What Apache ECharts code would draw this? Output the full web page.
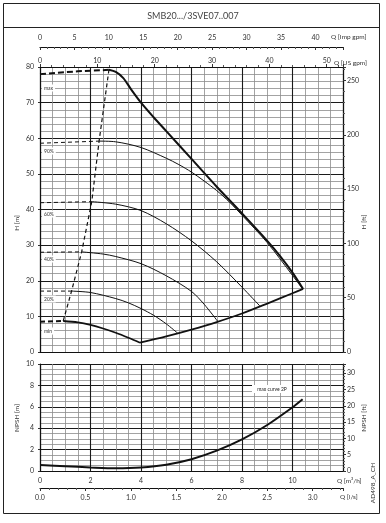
<!DOCTYPE html>
<html><head><meta charset="utf-8">
<script src="https://cdn.jsdelivr.net/npm/echarts/dist/echarts.min.js"></script>
<style>html,body{margin:0;padding:0;background:#fff}#c{width:386px;height:523px}</style>
</head><body><div id="c"></div>
<script>
// ---- data (Q in m3/h, H in m) ----
const maxDashQ = [0, 1.5, 2.73];
const maxDashH = [78.0, 78.8, 79.2];
const maxQ = [2.73, 3.0, 3.3, 3.6, 4.0, 4.5, 5.0, 6.0, 7.0, 8.0, 9.0, 9.5, 10.0, 10.42];
const maxH = [79.2, 78.6, 76.9, 73.8, 70.0, 65.9, 62.0, 54.2, 46.4, 38.9, 31.2, 27.0, 22.3, 17.7];
const s90DashQ = [0, 2.34];
const s90DashH = [58.6, 59.2];
const s90Q = [2.34, 3.0, 4.0, 5.0, 5.5, 6.0, 6.5, 7.0, 7.5, 8.0, 9.0, 10.0, 10.38];
const s90H = [59.2, 59.0, 57.4, 54.4, 52.6, 50.5, 48.0, 45.3, 42.1, 38.4, 30.7, 21.5, 17.9];
const s60DashQ = [0, 2.05];
const s60DashH = [41.9, 42.2];
const s60Q = [2.05, 3.0, 4.0, 5.0, 6.0, 7.0, 8.0, 8.71];
const s60H = [42.2, 41.5, 39.7, 36.0, 31.2, 25.3, 18.2, 12.9];
const s40DashQ = [0, 1.65];
const s40DashH = [28.0, 28.1];
const s40Q = [1.65, 2.5, 3.0, 4.0, 5.0, 6.0, 6.5, 7.05];
const s40H = [28.1, 27.5, 26.8, 24.8, 21.4, 17.0, 13.4, 8.5];
const s20DashQ = [0, 1.25];
const s20DashH = [17.1, 17.1];
const s20Q = [1.25, 2.0, 3.0, 3.5, 4.0, 4.5, 5.0, 5.45];
const s20H = [17.1, 16.7, 15.0, 13.8, 12.2, 10.3, 7.9, 5.3];
const minDashQ = [0, 0.92];
const minDashH = [8.5, 8.7];
const minQ = [0.92, 1.5, 2.0, 2.5, 3.0, 3.5, 3.96];
const minH = [8.7, 8.3, 7.6, 6.6, 5.4, 4.0, 2.6];
const sysQ = [3.96, 5.0, 6.0, 7.0, 8.0, 9.0, 10.0, 10.42];
const sysH = [2.6, 4.4, 6.3, 8.4, 10.8, 13.6, 16.5, 17.7];
const kneeQ = [0.92, 1.25, 1.65, 2.05, 2.34, 2.73];
const kneeH = [8.7, 17.1, 28.1, 42.2, 59.2, 79.2];
const npshQ = [0, 1, 2, 3, 4, 5, 6, 7, 8, 9, 10, 10.4];
const npshV = [0.56, 0.45, 0.33, 0.25, 0.32, 0.58, 1.1, 1.9, 2.95, 4.3, 5.95, 6.7];
const curveLabels = ['max', '90%', '60%', '40%', '20%', 'min'];
const titleText = 'SMB20.../3SVE07..007';

// ---- unit conversions for secondary axes ----
const Q_MAX = 12;
const IMP = 3.6662, USG = 4.4029, LS = 1 / 3.6, FT = 3.28084;

function zip(a, b) { return a.map((v, i) => [v, b[i]]); }
const FONT = 'Lato';
const txt = '#333';

function line(q, h, w, dash, xi, yi) {
  return {
    type: 'line', xAxisIndex: xi || 0, yAxisIndex: yi || 0, data: zip(q, h),
    showSymbol: false, symbol: 'none', smooth: dash ? false : 0.3, silent: true,
    lineStyle: { color: '#111', width: w, type: dash || 'solid' }, z: 5
  };
}

const major = { show: true, lineStyle: { color: '#1a1a1a', width: 1.1 } };
const minor = { show: true, lineStyle: { color: '#8c8c8c', width: 0.8 } };
const axLine = { show: true, onZero: false, lineStyle: { color: '#111', width: 1.2 } };
const lab = { color: txt, fontSize: 7, fontFamily: FONT };

const chart = echarts.init(document.getElementById('c'), null, { renderer: 'canvas' });
const opt = {
  animation: false,
  backgroundColor: '#fff',
  grid: [
    { left: 40, top: 67, width: 303, height: 285 },
    { left: 40, top: 364, width: 303, height: 107 },
    { left: 40, top: 47, width: 303, height: 10 },
    { left: 40, top: 478, width: 303, height: 10 }
  ],
  xAxis: [
    { gridIndex: 0, type: 'value', position: 'bottom', min: 0, max: Q_MAX, interval: 2,
      axisLine: axLine, axisTick: { show: false }, axisLabel: { show: false },
      splitLine: major, minorTick: { show: false, splitNumber: 4 }, minorSplitLine: minor },
    { gridIndex: 0, type: 'value', position: 'top', min: 0, max: Q_MAX * USG, interval: 10,
      axisLine: axLine, axisTick: { show: true, length: 3, lineStyle: { color: '#333' } },
      minorTick: { show: true, splitNumber: 5, length: 2, lineStyle: { color: '#555' } },
      axisLabel: Object.assign({ margin: 3, showMaxLabel: false }, lab), splitLine: { show: false } },
    { gridIndex: 2, type: 'value', position: 'top', min: 0, max: Q_MAX * IMP, interval: 5,
      axisLine: axLine, axisTick: { show: true, inside: true, length: 3, lineStyle: { color: '#333' } },
      minorTick: { show: true, splitNumber: 5, length: 2, lineStyle: { color: '#555' } },
      axisLabel: Object.assign({ margin: 6, showMaxLabel: false }, lab), splitLine: { show: false } },
    { gridIndex: 1, type: 'value', position: 'bottom', min: 0, max: Q_MAX, interval: 2,
      axisLine: axLine, axisTick: { show: false },
      axisLabel: Object.assign({ margin: 6, showMaxLabel: false }, lab),
      splitLine: major, minorTick: { show: false, splitNumber: 4 }, minorSplitLine: minor },
    { gridIndex: 3, type: 'value', position: 'bottom', min: 0, max: Q_MAX * LS, interval: 0.5,
      axisLine: axLine, axisTick: { show: true, length: 3, lineStyle: { color: '#333' } },
      minorTick: { show: true, splitNumber: 5, length: 2, lineStyle: { color: '#555' } },
      axisLabel: Object.assign({ margin: 6, showMaxLabel: false, formatter: v => v.toFixed(1) }, lab),
      splitLine: { show: false } }
  ],
  yAxis: [
    { gridIndex: 0, type: 'value', position: 'left', min: 0, max: 80, interval: 10,
      axisLine: axLine, axisTick: { show: true, length: 2, lineStyle: { color: '#333' } },
      axisLabel: Object.assign({ margin: 6 }, lab),
      splitLine: major, minorTick: { show: false, splitNumber: 5 }, minorSplitLine: minor },
    { gridIndex: 0, type: 'value', position: 'right', min: 0, max: 80 * FT, interval: 50,
      axisLine: axLine, axisTick: { show: true, length: 3, lineStyle: { color: '#333' } },
      minorTick: { show: true, splitNumber: 5, length: 2, lineStyle: { color: '#555' } },
      axisLabel: Object.assign({ margin: 4, showMaxLabel: false }, lab), splitLine: { show: false } },
    { gridIndex: 1, type: 'value', position: 'left', min: 0, max: 10, interval: 2,
      axisLine: axLine, axisTick: { show: true, length: 2, lineStyle: { color: '#333' } },
      axisLabel: Object.assign({ margin: 6 }, lab),
      splitLine: major, minorTick: { show: false, splitNumber: 4 }, minorSplitLine: minor },
    { gridIndex: 1, type: 'value', position: 'right', min: 0, max: 10 * FT, interval: 5,
      axisLine: axLine, axisTick: { show: true, length: 3, lineStyle: { color: '#333' } },
      minorTick: { show: true, splitNumber: 5, length: 2, lineStyle: { color: '#555' } },
      axisLabel: Object.assign({ margin: 4, showMaxLabel: false }, lab), splitLine: { show: false } },
    { gridIndex: 2, type: 'value', show: false, min: 0, max: 1 },
    { gridIndex: 3, type: 'value', show: false, min: 0, max: 1 }
  ],
  series: [
    line(maxDashQ, maxDashH, 2, [6, 3]),
    line(maxQ, maxH, 2),
    line(s90DashQ, s90DashH, 1, [4, 3]),
    line(s90Q, s90H, 1),
    line(s60DashQ, s60DashH, 1, [4, 3]),
    line(s60Q, s60H, 1),
    line(s40DashQ, s40DashH, 1, [4, 3]),
    line(s40Q, s40H, 1),
    line(s20DashQ, s20DashH, 1, [4, 3]),
    line(s20Q, s20H, 1),
    line(minDashQ, minDashH, 2, [5, 3]),
    line(minQ, minH, 1.8),
    line(sysQ, sysH, 1.8),
    line(kneeQ, kneeH, 1.2, [4, 3]),
    line(npshQ, npshV, 2, null, 3, 2)
  ],
  graphic: []
};

const G = opt.graphic;
G.push({ type: 'rect', shape: { x: 3.5, y: 3.5, width: 376, height: 510 }, style: { fill: 'none', stroke: '#222', lineWidth: 1 }, z: 1 });
G.push({ type: 'line', shape: { x1: 3.5, y1: 27.5, x2: 379.5, y2: 27.5 }, style: { stroke: '#222', lineWidth: 1 }, z: 1 });
G.push({ type: 'text', x: 193, y: 16, style: { text: titleText, fill: '#444', fontSize: 9, fontFamily: FONT, align: 'center', verticalAlign: 'middle' }, z: 10 });
function vt(t, x, y) {
  G.push({ type: 'text', x: x, y: y, rotation: Math.PI / 2, style: { text: t, fill: txt, fontSize: 6.5, fontFamily: FONT, align: 'center', verticalAlign: 'middle' }, z: 10 });
}
vt('H [m]', 17, 223);
vt('NPSH [m]', 17, 418);
vt('H [ft]', 364, 222);
vt('NPSH [ft]', 364, 418);
vt('AD498_A_CH', 373, 483);
function ht(t, x, y, fs, bg) {
  const st = { text: t, fill: txt, fontSize: fs || 6.5, fontFamily: FONT, align: 'left', verticalAlign: 'middle' };
  if (bg) { st.backgroundColor = '#fff'; st.padding = [1, 2]; }
  G.push({ type: 'text', x: x, y: y, style: st, z: 10 });
}
ht('Q [Imp gpm]', 331, 37);
ht('Q [US gpm]', 334, 63);
ht('Q [m³/h]', 337, 481);
ht('Q [l/s]', 340, 497);
const labY = [88, 151, 214, 259, 299, 331];
curveLabels.forEach((t, i) => ht(t, 42, labY[i], 5, true));
G.push({ type: 'rect', shape: { x: 252, y: 385, width: 40, height: 8 }, style: { fill: '#fff', stroke: 'none' }, z: 9 });
G.push({ type: 'text', x: 272, y: 389, style: { text: 'max curve 2P', fill: '#222', fontSize: 5, fontFamily: FONT, align: 'center', verticalAlign: 'middle' }, z: 10 });

chart.setOption(opt);
</script></body></html>
